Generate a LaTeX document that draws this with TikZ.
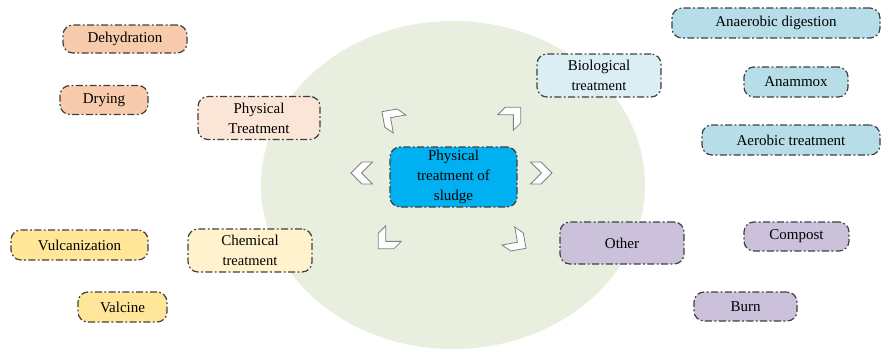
\documentclass[tikz,border=0pt]{standalone}
\usepackage{fontspec}
\setmainfont{Liberation Serif}
\definecolor{peachD}{HTML}{F8CBAD}
\definecolor{peachL}{HTML}{FBE5D6}
\definecolor{centreblue}{HTML}{00B0F0}
\definecolor{blueL}{HTML}{DAEEF3}
\definecolor{blueD}{HTML}{B7DEE8}
\definecolor{yellowD}{HTML}{FFE699}
\definecolor{yellowL}{HTML}{FFF2CC}
\definecolor{purpleD}{HTML}{CCC1DA}
\definecolor{bgellipse}{HTML}{E8EFDE}
\definecolor{edgegray}{HTML}{404040}
\tikzset{
  box/.style={draw=edgegray, line width=1.2pt, rounded corners=10pt,
    dash pattern=on 7pt off 2.5pt on 1.8pt off 2.5pt,
    inner sep=0pt, align=center, text=black,
    font=\fontsize{15}{20}\selectfont},
  chev/.style={draw=gray, fill=white, line width=0.8pt, line join=miter},
}
\newcommand\chevronat[3]{%
  \draw[chev, shift={(#1,#2)}, rotate=#3]
    (-10.5,-11) -- (0,-11) -- (11,0) -- (0,11) -- (-10.5,11) -- (0.5,0) -- cycle;}
\begin{document}
\begin{tikzpicture}[x=1pt,y=-1pt]
\useasboundingbox (0,0) rectangle (881,349);
\fill[bgellipse] (453,185) ellipse [x radius=192, y radius=164];

\node[box, fill=centreblue, minimum width=127, minimum height=60] (centre) at (453.5,177) {Physical\\treatment of\\sludge};

\node[box, fill=peachD, minimum width=124, minimum height=28] (deh) at (125,39) {Dehydration};
\node[box, fill=peachD, minimum width=88, minimum height=29] (dry) at (104,100) {Drying};
\node[box, fill=peachL, minimum width=122, minimum height=43] (phys) at (259,118) {Physical\\Treatment};

\node[box, fill=blueL, minimum width=124, minimum height=43] (bio) at (599,75.5) {Biological\\{\fontsize{14.5}{19}\selectfont treatment}};
\node[box, fill=blueD, minimum width=208, minimum height=30] (ana) at (776,23) {Anaerobic digestion};
\node[box, fill=blueD, minimum width=104, minimum height=30] (anam) at (796,82) {Anammox};
\node[box, fill=blueD, minimum width=178, minimum height=30] (aer) at (791,140) {Aerobic treatment};

\node[box, fill=yellowD, minimum width=137, minimum height=30] (vul) at (79.5,245) {Vulcanization};
\node[box, fill=yellowD, minimum width=89, minimum height=30] (val) at (122.5,307) {Valcine};
\node[box, fill=yellowL, minimum width=124, minimum height=43] (chem) at (250,250.5) {Chemical\\{\fontsize{14.5}{19}\selectfont treatment}};

\node[box, fill=purpleD, minimum width=124, minimum height=42] (other) at (622,243) {Other};
\node[box, fill=purpleD, minimum width=105, minimum height=29] (comp) at (796.5,236.5) {Compost};
\node[box, fill=purpleD, minimum width=103, minimum height=29] (burn) at (745.5,306.5) {Burn};

\chevronat{362}{173}{180}
\chevronat{541}{173}{0}
\chevronat{391}{118}{145}
\chevronat{513}{115}{45}
\chevronat{386}{241}{225}
\chevronat{517}{242}{-35}
\end{tikzpicture}
\end{document}
